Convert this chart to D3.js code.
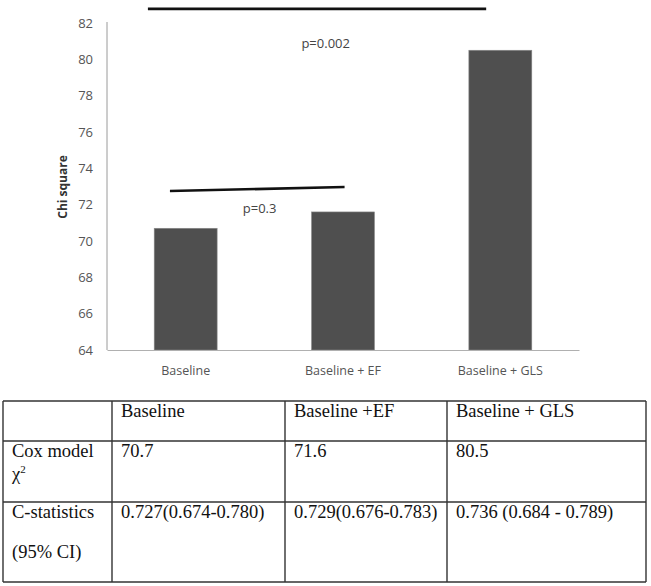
<!DOCTYPE html>
<html>
<head>
<meta charset="utf-8">
<script src="https://cdn.jsdelivr.net/npm/d3@7"></script>
<style>
  body { margin: 0; background: #fff; }
  svg { display: block; }
</style>
</head>
<body>
<div id="chart"></div>
<script>
// models and their chi square values (same numbers as the table)
var models = ["Baseline", "Baseline + EF", "Baseline + GLS"];
var chiValues = [70.7, 71.6, 80.5];
var yTicks = [64, 66, 68, 70, 72, 74, 76, 78, 80, 82];

// significance brackets: position in category units (0 = first bar centre), height in chi units
var compFrom = [-0.10, -0.24];
var compTo = [1.01, 1.91];
var compYFrom = [72.75, 82.78];
var compYTo = [72.97, 82.78];
var compLabel = ["p=0.3", "p=0.002"];
var compLabelPos = [0.47, 0.89];
var compLabelY = [71.55, 80.6];

// table under the chart
var tableHead = ["", "Baseline", "Baseline +EF", "Baseline + GLS"];
var cstat = ["0.727(0.674-0.780)", "0.729(0.676-0.783)", "0.736 (0.684 - 0.789)"];

var w = 651, h = 586;
var margin = { top: 23, left: 107, right: 72 };
var plotBottom = 350;

var svg = d3.select("#chart").append("svg")
    .attr("width", w)
    .attr("height", h);

var x = d3.scaleBand()
    .domain(models)
    .range([margin.left, w - margin.right])
    .paddingInner(0.6)
    .paddingOuter(0.3);

var y = d3.scaleLinear()
    .domain([64, 82])
    .range([plotBottom, margin.top]);

// centre of a category given a fractional index
var step = x.step();
function catX(i) { return x(models[0]) + x.bandwidth() / 2 + i * step; }

// bars
svg.append("g")
    .selectAll("rect")
    .data(chiValues)
    .enter()
    .append("rect")
    .attr("x", (d, i) => x(models[i]))
    .attr("y", d => y(d))
    .attr("width", x.bandwidth())
    .attr("height", d => y(64) - y(d))
    .style("fill", "#4f4f4f")
    .style("stroke", "#8a8a8a")
    .style("stroke-width", 0.6);

// y axis
var yAxis = svg.append("g")
    .attr("transform", "translate(" + margin.left + ",0)")
    .call(d3.axisLeft(y).tickValues(yTicks).tickSize(0).tickPadding(14));
yAxis.select(".domain").attr("stroke", "#9a9a9a").attr("d", "M0," + (margin.top - 1) + "V" + plotBottom);
yAxis.selectAll("text")
    .style("font-family", "'Open Sans', sans-serif")
    .style("font-size", "13px")
    .style("fill", "#555");

// x axis
var xAxis = svg.append("g")
    .attr("transform", "translate(0," + plotBottom + ")")
    .call(d3.axisBottom(x).tickSize(0).tickPadding(16));
xAxis.select(".domain").attr("stroke", "#b0b0b0");
xAxis.selectAll("text")
    .style("font-family", "'Open Sans', sans-serif")
    .style("font-size", "12.5px")
    .style("fill", "#555");

// y title
svg.append("text")
    .attr("transform", "translate(67,187) rotate(-90)")
    .attr("text-anchor", "middle")
    .style("font-family", "'Open Sans', sans-serif")
    .style("font-size", "12px")
    .style("font-weight", "bold")
    .style("fill", "#333")
    .text("Chi square");

// significance lines + p values
compLabel.forEach((lab, i) => {
    svg.append("line")
        .attr("x1", catX(compFrom[i]))
        .attr("x2", catX(compTo[i]))
        .attr("y1", y(compYFrom[i]))
        .attr("y2", y(compYTo[i]))
        .style("stroke", "#111")
        .style("stroke-width", 2.6);
    svg.append("text")
        .attr("x", catX(compLabelPos[i]))
        .attr("y", y(compLabelY[i]))
        .attr("text-anchor", "middle")
        .style("font-family", "'Open Sans', sans-serif")
        .style("font-size", "13px")
        .style("fill", "#444")
        .text(lab);
});

// table
var colX = [3, 112, 285, 447, 646];
var rowY = [401, 441, 502, 582];
var tbl = svg.append("g")
    .style("font-family", "'Liberation Serif', 'Times New Roman', serif")
    .style("font-size", "18.5px")
    .style("fill", "#111");

rowY.forEach(ry => {
    tbl.append("line")
        .attr("x1", colX[0]).attr("x2", colX[colX.length - 1])
        .attr("y1", ry).attr("y2", ry)
        .style("stroke", "#333").style("stroke-width", 1.4);
});
colX.forEach(cx => {
    tbl.append("line")
        .attr("x1", cx).attr("x2", cx)
        .attr("y1", rowY[0]).attr("y2", rowY[rowY.length - 1])
        .style("stroke", "#333").style("stroke-width", 1.4);
});

function cell(col, yy, txt) {
    return tbl.append("text")
        .attr("x", colX[col] + 9)
        .attr("y", yy)
        .text(txt);
}

tableHead.forEach((t, i) => cell(i, 417, t));

cell(0, 457, "Cox model");
var chiCell = tbl.append("text").attr("x", colX[0] + 9).attr("y", 480);
chiCell.append("tspan").text("χ");
chiCell.append("tspan").attr("dy", -7).style("font-size", "11px").text("2");
chiValues.forEach((v, i) => cell(i + 1, 457, v.toFixed(1)));

cell(0, 518, "C-statistics");
cell(0, 558, "(95% CI)");
cstat.forEach((t, i) => cell(i + 1, 518, t));
</script>
</body>
</html>
